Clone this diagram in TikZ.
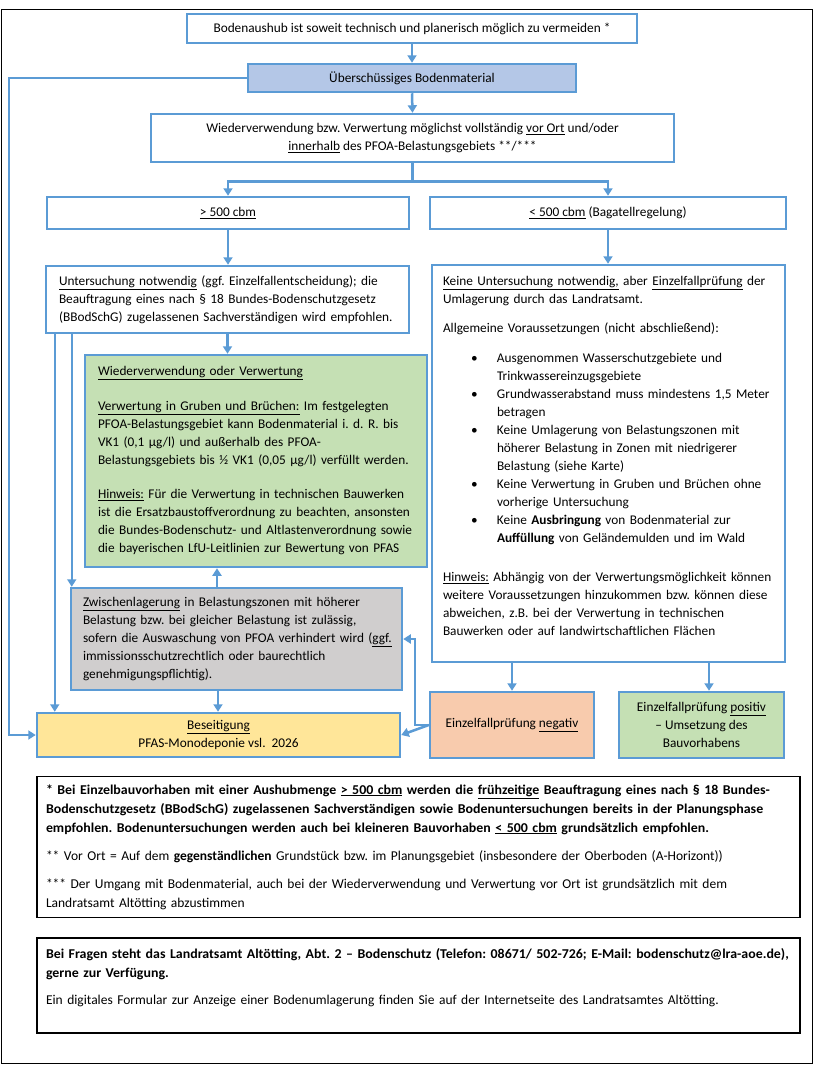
\documentclass[tikz,border=0pt]{standalone}
\usepackage{fontspec}
\setmainfont{Carlito}
\usetikzlibrary{arrows.meta}
\frenchspacing

\definecolor{flowblue}{HTML}{5B9BD5}
\definecolor{ueberfill}{HTML}{B4C7E7}
\definecolor{wvfill}{HTML}{C5E0B4}
\definecolor{zwifill}{HTML}{D0CECE}
\definecolor{seitfill}{HTML}{FFE699}
\definecolor{negfill}{HTML}{F8CBAD}

\tikzset{
  box/.style={draw=flowblue,line width=2.5pt,fill=white,inner sep=0pt,align=center,
    font=\fontsize{13.3}{18}\selectfont},
  textbox/.style={box,align=left,inner xsep=#1,
    execute at begin node={\rightskip=-20pt plus 1fil\relax}},
  fnbox/.style={draw=black,line width=1.4pt,inner sep=0pt,inner xsep=9pt,align=left,
    text width=745pt,minimum width=763pt,font=\fontsize{13.5}{19}\selectfont,
    execute at begin node={\rightskip=-20pt plus 1fil\relax}},
  flow/.style={draw=flowblue,line width=2.5pt,-{Triangle[width=9pt,length=7.5pt]}}
}
\newcommand{\punkt}[1]{\hspace*{28pt}\makebox[26pt][l]{\textbullet}#1}
\newcommand{\weiter}[1]{\hspace*{54pt}#1}
\newcommand{\breit}[1]{\textbf{\addfontfeature{FakeStretch=1.03}#1}}

\begin{document}
\begin{tikzpicture}[x=1pt,y=-1pt]
  \useasboundingbox (0,0) rectangle (814,1068);
  % Outer frame
  \draw[black,line width=1pt] (1,9) rectangle (812,1063);

  % Define the boxes of the flow chart
  \node[box,minimum width=450pt,minimum height=29pt] (vermeid) at (412,28.5)
    {Bodenaushub ist soweit technisch und planerisch möglich zu vermeiden *};
  \node[box,fill=ueberfill,minimum width=328pt,minimum height=28pt] (ueber) at (412,78)
    {Überschüssiges Bodenmaterial};
  \node[box,minimum width=523pt,minimum height=48pt] (wieder) at (412.5,138)
    {Wiederverwendung bzw. Verwertung möglichst vollständig \underline{vor Ort} und/oder\\
     \underline{innerhalb} des PFOA-Belastungsgebiets **/***};
  \node[box,minimum width=362pt,minimum height=32pt] (gross) at (228,213)
    {\underline{> 500 cbm}};
  \node[box,minimum width=356pt,minimum height=32pt] (klein) at (608,213)
    {\underline{< 500 cbm} (Bagatellregelung)};

  \node[textbox=13pt,text width=337pt,minimum width=363pt,minimum height=67pt] (unt) at (227.5,299.5)
    {\underline{Untersuchung notwendig} (ggf. Einzelfallentscheidung); die\\
     Beauftragung eines nach § 18 Bundes-Bodenschutzgesetz\\
     (BBodSchG) zugelassenen Sachverständigen wird empfohlen.};

  \node[textbox=13pt,fill=wvfill,text width=316pt,minimum width=342pt,minimum height=212pt] (wv) at (256,461)
    {\underline{Wiederverwendung oder Verwertung}\\[17pt]
     \underline{Verwertung in Gruben und Brüchen:} Im festgelegten\\
     PFOA-Belastungsgebiet kann Bodenmaterial i. d. R. bis\\
     VK1 (0,1 µg/l) und außerhalb des PFOA-\\
     Belastungsgebiets bis ½ VK1 (0,05 µg/l) verfüllt werden.\\[16pt]
     \underline{Hinweis:} Für die Verwertung in technischen Bauwerken\\
     ist die Ersatzbaustoffverordnung zu beachten, ansonsten\\
     die Bundes-Bodenschutz- und Altlastenverordnung sowie\\
     die bayerischen LfU-Leitlinien zur Bewertung von PFAS};

  \node[textbox=11pt,text width=331pt,minimum width=353pt,minimum height=397pt] (keine) at (608.5,463.5)
    {\underline{Keine Untersuchung notwendig,} aber \underline{Einzelfallprüfung} der\\
     Umlagerung durch das Landratsamt.\\[11pt]
     Allgemeine Voraussetzungen (nicht abschließend):\\[12pt]
     \punkt{Ausgenommen Wasserschutzgebiete und}\\
     \weiter{Trinkwassereinzugsgebiete}\\
     \punkt{Grundwasserabstand muss mindestens 1,5 Meter}\\
     \weiter{betragen}\\
     \punkt{Keine Umlagerung von Belastungszonen mit}\\
     \weiter{höherer Belastung in Zonen mit niedrigerer}\\
     \weiter{Belastung (siehe Karte)}\\
     \punkt{Keine Verwertung in Gruben und Brüchen ohne}\\
     \weiter{vorherige Untersuchung}\\
     \punkt{Keine \textbf{Ausbringung} von Bodenmaterial zur}\\
     \weiter{\textbf{Auffüllung} von Geländemulden und im Wald}\\[21pt]
     \underline{Hinweis:} Abhängig von der Verwertungsmöglichkeit können\\
     weitere Voraussetzungen hinzukommen bzw. können diese\\
     abweichen, z.B. bei der Verwertung in technischen\\
     Bauwerken oder auf landwirtschaftlichen Flächen\\[-3pt]
     \mbox{}};

  \node[textbox=12pt,fill=zwifill,text width=307pt,minimum width=331pt,minimum height=102pt] (zwi) at (236.5,639)
    {\underline{Zwischenlagerung} in Belastungszonen mit höherer\\
     Belastung bzw. bei gleicher Belastung ist zulässig,\\
     sofern die Auswaschung von PFOA verhindert wird (\underline{ggf.}\\
     immissionsschutzrechtlich oder baurechtlich\\
     genehmigungspflichtig).};

  \node[box,fill=seitfill,minimum width=363pt,minimum height=44pt] (seit) at (218.5,735)
    {\underline{Beseitigung}\\ PFAS-Monodeponie vsl.\ \ 2026};
  \node[box,fill=negfill,minimum width=164pt,minimum height=66pt] (neg) at (512,725)
    {Einzelfallprüfung \underline{negativ}};
  \node[box,fill=wvfill,minimum width=165pt,minimum height=66pt] (pos) at (701.5,725)
    {Einzelfallprüfung \underline{positiv}\\ – Umsetzung des\\ Bauvorhabens};

  % Draw the connectors
  \draw[flow] (vermeid.south) -- (ueber.north);
  \draw[flow] (ueber.south) -- (wieder.north);
  \draw[flow] (wieder.south) -- ++(0,18) -| (gross.north);
  \draw[flow] (wieder.south) -- ++(0,18) -| (klein.north);
  \draw[flow] (gross.south) -- (gross.south |- unt.north);
  \draw[flow] (klein.south) -- (klein.south |- keine.north);
  \draw[flow] (ueber.west) -- ++(-238,0) |- (seit.west);
  \draw[flow] (unt.south) -- (unt.south |- wv.north);
  \draw[flow] ([xshift=27pt]unt.south west) -- ([xshift=27pt]unt.south west |- zwi.north);
  \draw[flow] ([xshift=10pt]unt.south west) -- ([xshift=10pt]unt.south west |- seit.north);
  \draw[flow] ([xshift=-19.5pt]zwi.north) -- ([xshift=-19.5pt]zwi.north |- wv.south);
  \draw[flow] ([xshift=-18.5pt]zwi.south) -- ([xshift=-18.5pt]zwi.south |- seit.north);
  \draw[flow] (keine.south -| neg.north) -- (neg.north);
  \draw[flow] ([xshift=7.5pt]pos.north |- keine.south) -- ([xshift=7.5pt]pos.north);
  \draw[flow] (neg.west) -- ++(-14,0) |- (zwi.east);
  \draw[flow] (neg.west) -- (seit.east);

  % Footnotes
  \node[fnbox,minimum height=141pt] (fn1) at (418.5,847)
    {\breit{* Bei Einzelbauvorhaben mit einer Aushubmenge \underline{> 500 cbm} werden die \underline{frühzeitige} Beauftragung eines nach § 18 Bundes-}\\
     \breit{Bodenschutzgesetz (BBodSchG) zugelassenen Sachverständigen sowie Bodenuntersuchungen bereits in der Planungsphase}\\
     \breit{empfohlen. Bodenuntersuchungen werden auch bei kleineren Bauvorhaben \underline{< 500 cbm} grundsätzlich empfohlen.}\\[9pt]
     ** Vor Ort = Auf dem \textbf{gegenständlichen} Grundstück bzw. im Planungsgebiet (insbesondere der Oberboden (A-Horizont))\\[9pt]
     *** Der Umgang mit Bodenmaterial, auch bei der Wiederverwendung und Verwertung vor Ort ist grundsätzlich mit dem\\
     Landratsamt Altötting abzustimmen};
  \node[fnbox,minimum height=95pt] (fn2) at (418.5,985.5)
    {\breit{Bei Fragen steht das Landratsamt Altötting, Abt. 2 – Bodenschutz (Telefon: 08671/ 502-726; E-Mail: bodenschutz@lra-aoe.de),}\\
     \breit{gerne zur Verfügung.}\\[8pt]
     Ein digitales Formular zur Anzeige einer Bodenumlagerung finden Sie auf der Internetseite des Landratsamtes Altötting.\\
     \mbox{}};
\end{tikzpicture}
\end{document}
